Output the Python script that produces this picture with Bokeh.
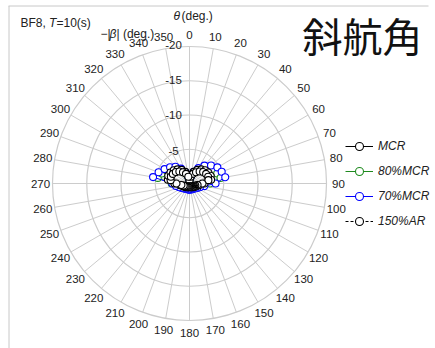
import numpy as np
from bokeh.plotting import figure
from bokeh.models import Range1d, Legend, LegendItem
from bokeh.core.properties import value
from bokeh.embed import file_html
from bokeh.resources import INLINE

# ---------------- data ----------------
theta_deg = list(range(0, 360, 10))
beta_mcr = [0.5, 1.2, 1.8, 2.3, 2.7, 3.0, 3.2, 3.3, 3.2, 2.2, 1.4, 1.1, 0.9, 0.8, 0.7, 0.6, 0.6, 0.5,
            0.5, 0.5, 0.6, 0.6, 0.7, 0.8, 0.9, 1.1, 1.4, 2.2, 3.2, 3.3, 3.2, 3.0, 2.7, 2.3, 1.8, 1.2]
beta_80 = [0.4, 0.9, 1.6, 2.2, 2.8, 3.4, 3.9, 4.3, 4.6, 3.0, 1.8, 1.4, 1.1, 1.0, 0.9, 0.8, 0.8, 0.8,
           0.8, 0.8, 0.8, 0.8, 0.9, 1.0, 1.1, 1.4, 1.8, 2.6, 4.7, 4.3, 3.9, 3.4, 2.8, 2.2, 1.5, 0.9]
beta_70 = [0.5, 1.0, 1.8, 2.6, 3.4, 4.1, 4.7, 5.0, 5.3, 3.8, 2.2, 1.6, 1.3, 1.1, 1.0, 0.9, 0.9, 0.9,
           0.9, 0.9, 0.9, 0.9, 1.0, 1.1, 1.3, 1.6, 2.0, 2.5, 5.4, 4.8, 4.2, 3.7, 3.2, 2.5, 1.75, 1.0]
beta_150ar = [0.4, 1.0, 1.5, 1.9, 2.3, 2.6, 2.8, 2.9, 2.8, 1.9, 1.2, 0.9, 0.8, 0.7, 0.6, 0.5, 0.5, 0.4,
              0.4, 0.4, 0.5, 0.5, 0.6, 0.7, 0.8, 0.9, 1.2, 1.9, 2.8, 2.9, 2.8, 2.6, 2.3, 1.9, 1.5, 1.0]
radial_ticks = [5, 10, 15, 20]
radial_labels = ["-5", "-10", "-15", "-20"]
angle_ticks = list(range(0, 360, 10))
angle_labels = [str(a) for a in angle_ticks]
series_names = ["MCR", "80%MCR", "70%MCR", "150%AR"]

# ---------------- layout helpers ----------------
K = 6.85               # px per degree of |beta|
CXP, CYP = 189, 183    # page coordinates of pole
W, H = 435, 348
OX, OY = 0, 0          # page offset of figure
def X(px): return (px - CXP) / K
def Y(py): return (CYP - py) / K

p = figure(width=W, height=H, x_range=Range1d(X(OX), X(OX + W)), y_range=Range1d(Y(OY + H), Y(OY)),
           x_axis_type=None, y_axis_type=None, output_backend="svg", toolbar_location=None,
           min_border=0)
p.grid.visible = False
p.outline_line_color = None
p.background_fill_color = "white"

# frame lines (top and left)
p.line([X(8), X(428)], [Y(5.5), Y(5.5)], line_color="#c8c8c8", line_width=1)
p.line([X(8.5), X(8.5)], [Y(5.5), Y(H)], line_color="#c8c8c8", line_width=1)

GRID = "#cccccc"
rmax = radial_ticks[-1]
# spokes
ang = np.radians(angle_ticks)
p.segment(x0=np.zeros(len(ang)), y0=np.zeros(len(ang)), x1=rmax * np.sin(ang), y1=rmax * np.cos(ang),
          line_color=GRID, line_width=1)
# rings
p.circle(x=[0] * len(radial_ticks), y=[0] * len(radial_ticks), radius=radial_ticks,
         fill_color=None, line_color=GRID, line_width=1.2)

FONT = value("Liberation Sans")
TXT = "#222222"
# angular labels
rl = 149 / K
p.text(x=rl * np.sin(ang), y=rl * np.cos(ang), text=angle_labels, text_font=FONT,
       text_font_size="11.5px", text_align="center", text_baseline="middle", text_color=TXT)
# radial labels
dx = -16 / K
ry = [np.sqrt(r * r - dx * dx) + 2 / K for r in radial_ticks]
p.text(x=[dx] * len(radial_ticks), y=ry, text=radial_labels, text_font=FONT,
       text_font_size="11.5px", text_align="center", text_baseline="middle", text_color=TXT)

# titles
def txt(px, py, s, size="12px", style="normal", align="left", font=FONT, color=TXT):
    p.text(x=[X(px)], y=[Y(py)], text=[s], text_font=font, text_font_size=size,
           text_font_style=style, text_align=align, text_baseline="middle", text_color=color)

txt(20, 22, "BF8, ")
txt(48.5, 22, "T", style="italic")
txt(56, 22, "=10(s)")
txt(173, 15, "θ", style="italic")
txt(181, 15, "(deg.)")
txt(100, 33, "−|")
txt(109, 33, "β", style="italic")
txt(116, 33, "| (deg.)")
txt(362, 34, "斜航角", size="40px", align="center", font=value("Noto Sans CJK JP"), color="#111111")

# series
def polar(beta):
    t = np.radians(theta_deg)
    b = np.asarray(beta, dtype=float)
    return b * np.sin(t), b * np.cos(t)

styles = {
    "80%MCR": dict(beta=beta_80, color="#1f8a1f", dash="solid"),
    "70%MCR": dict(beta=beta_70, color="#0000ff", dash="solid"),
    "MCR": dict(beta=beta_mcr, color="#000000", dash="solid"),
    "150%AR": dict(beta=beta_150ar, color="#000000", dash="3 2"),
}
renders = {}
for name in ["80%MCR", "70%MCR", "MCR", "150%AR"]:
    st = styles[name]
    x, y = polar(st["beta"])
    xl = np.append(x, x[0]); yl = np.append(y, y[0])
    lr = p.line(xl, yl, line_color=st["color"], line_width=1, line_dash=st["dash"])
    sr = p.scatter(x, y, marker="circle", size=7, fill_color="white", line_color=st["color"],
                   line_width=1.1)
    renders[name] = [lr, sr]

legend = Legend(items=[LegendItem(label=n, renderers=renders[n]) for n in series_names],
                location=(345, 117), padding=0, margin=0, spacing=5, glyph_width=28,
                glyph_height=20, label_height=20, label_standoff=5,
                border_line_color=None, background_fill_alpha=0,
                label_text_font="Liberation Sans", label_text_font_size="12px",
                label_text_font_style="italic", label_text_color=TXT)
p.add_layout(legend, "center")

open("out.html", "w").write(file_html(p, INLINE))
